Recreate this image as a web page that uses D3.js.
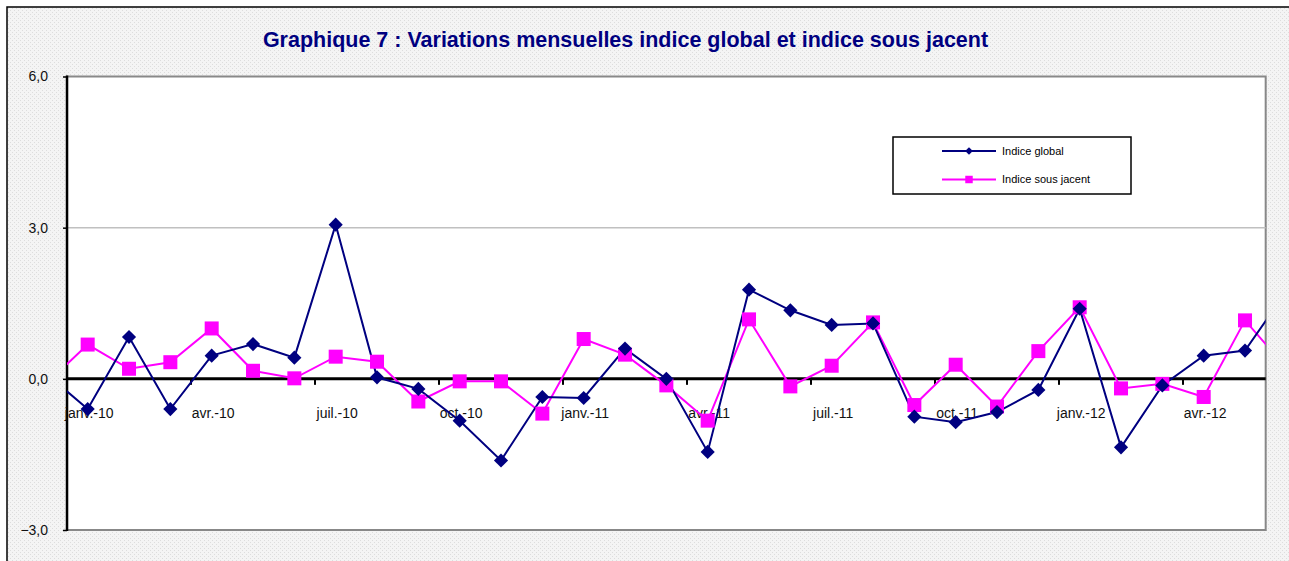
<!DOCTYPE html>
<html>
<head>
<meta charset="utf-8">
<script src="https://cdn.jsdelivr.net/npm/d3@7"></script>
<style>
  body { margin: 0; background: #fff; }
  svg { display: block; font-family: "Liberation Sans", Arial, sans-serif; }
</style>
</head>
<body>
<svg id="chart"></svg>
<script>
// months (déc.-09 and juin-12 sit outside the visible window and get clipped)
var months = ["déc.-09",
  "janv.-10","févr.-10","mars-10","avr.-10","mai-10","juin-10","juil.-10","août-10","sept.-10","oct.-10","nov.-10","déc.-10",
  "janv.-11","févr.-11","mars-11","avr.-11","mai-11","juin-11","juil.-11","août-11","sept.-11","oct.-11","nov.-11","déc.-11",
  "janv.-12","févr.-12","mars-12","avr.-12","mai-12",
  "juin-12"];

var indiceGlobal = [0.10,
  -0.60, 0.83, -0.60, 0.46, 0.69, 0.42, 3.06, 0.03, -0.20, -0.83, -1.62, -0.36,
  -0.38, 0.60, 0.00, -1.45, 1.77, 1.36, 1.07, 1.10, -0.75, -0.86, -0.66, -0.22,
  1.39, -1.36, -0.13, 0.46, 0.56,
  1.74];

var indiceSousJacent = [-0.10,
  0.68, 0.20, 0.33, 1.00, 0.16, 0.01, 0.44, 0.34, -0.45, -0.05, -0.05, -0.69,
  0.79, 0.48, -0.13, -0.83, 1.18, -0.15, 0.26, 1.12, -0.52, 0.28, -0.55, 0.55,
  1.42, -0.19, -0.10, -0.36, 1.16,
  0.22];

var firstShown = "janv.-10", lastShown = "mai-12";
var tickLabels = ["janv.-10","avr.-10","juil.-10","oct.-10","janv.-11","avr.-11","juil.-11","oct.-11","janv.-12","avr.-12"];
var yTicks = [-3, 0, 3, 6];
var seriesNames = ["Indice global", "Indice sous jacent"];

var W = 1289, H = 561;
var svg = d3.select("#chart").attr("width", W).attr("height", H);

// dotted grey background like the excel chart area
var defs = svg.append("defs");
var pat = defs.append("pattern").attr("id", "dots")
    .attr("width", 4).attr("height", 4).attr("patternUnits", "userSpaceOnUse");
pat.append("rect").attr("width", 4).attr("height", 4).attr("fill", "#f4f4f4");
pat.append("rect").attr("x", 0).attr("y", 0).attr("width", 1).attr("height", 1).attr("fill", "#dddddd");
pat.append("rect").attr("x", 2).attr("y", 2).attr("width", 1).attr("height", 1).attr("fill", "#dddddd");

svg.append("rect")
    .attr("x", 7).attr("y", 7).attr("width", W).attr("height", H)
    .attr("fill", "url(#dots)")
    .attr("stroke", "#000").attr("stroke-width", 1.5);

// title
svg.append("text")
    .attr("x", 625.5).attr("y", 47)
    .attr("text-anchor", "middle")
    .attr("font-size", 21.5).attr("font-weight", "bold")
    .attr("fill", "#000080")
    .text("Graphique 7 : Variations mensuelles indice global et indice sous jacent");

// scales
var x = d3.scalePoint().domain(months).range([46.35, 1286.35]);
var step = x.step();
var left = x(firstShown) - step / 2, right = x(lastShown) + step / 2;
var y = d3.scaleLinear().domain([-3, 6]).range([530, 76.5]);

// plot area
svg.append("rect")
    .attr("x", left).attr("y", y(6))
    .attr("width", right - left).attr("height", y(-3) - y(6))
    .attr("fill", "#fff")
    .attr("stroke", "#888").attr("stroke-width", 2);

svg.append("line")
    .attr("x1", left).attr("x2", right)
    .attr("y1", y(3)).attr("y2", y(3))
    .attr("stroke", "#c0c0c0").attr("stroke-width", 1.5);

// y axis
var yAxis = d3.axisLeft(y)
    .tickValues(yTicks)
    .tickSize(4)
    .tickPadding(15)
    .tickFormat(function(d){ return d3.format(".1f")(d).replace(".", ","); });

var gy = svg.append("g")
    .attr("transform", "translate(" + left + ",0)")
    .call(yAxis);
gy.select(".domain").remove();
gy.selectAll("line").attr("stroke", "#000").attr("stroke-width", 1.5);
gy.selectAll("text").attr("font-size", 14).attr("fill", "#111")
    .attr("font-family", "Liberation Sans, Arial, sans-serif");
svg.append("line")
    .attr("x1", left).attr("x2", left)
    .attr("y1", y(6) - 1).attr("y2", y(-3) + 1)
    .attr("stroke", "#000").attr("stroke-width", 2.5);

// x axis on the 0 line
var gx = svg.append("g").attr("transform", "translate(0," + y(0) + ")");
gx.append("line")
    .attr("x1", left).attr("x2", right)
    .attr("stroke", "#000").attr("stroke-width", 3);
gx.selectAll(".tk")
    .data(tickLabels)
    .enter().append("line")
    .attr("class", "tk")
    .attr("x1", function(d){ return x(d) - step / 2; })
    .attr("x2", function(d){ return x(d) - step / 2; })
    .attr("y1", 0).attr("y2", 6)
    .attr("stroke", "#000").attr("stroke-width", 2);

var xAxis = d3.axisBottom(x).tickValues(tickLabels).tickSize(0).tickPadding(29);
var gxl = svg.append("g").attr("transform", "translate(1," + y(0) + ")").call(xAxis);
gxl.select(".domain").remove();
gxl.selectAll("text").attr("font-size", 14).attr("fill", "#111")
    .attr("font-family", "Liberation Sans, Arial, sans-serif");

// series
defs.append("clipPath").attr("id", "plotclip")
  .append("rect")
    .attr("x", left).attr("y", y(6))
    .attr("width", right - left).attr("height", y(-3) - y(6));

var plot = svg.append("g").attr("clip-path", "url(#plotclip)");

var line = d3.line()
    .x(function(d){ return x(d.m); })
    .y(function(d){ return y(d.v); });

function seriesData(vals) {
  return months.map(function(m, i){ return { m: m, v: vals[i] }; });
}
var globalData = seriesData(indiceGlobal);
var sousData = seriesData(indiceSousJacent);

plot.append("path").datum(sousData)
    .attr("d", line).attr("fill", "none")
    .attr("stroke", "#ff00ff").attr("stroke-width", 2);

plot.append("path").datum(globalData)
    .attr("d", line).attr("fill", "none")
    .attr("stroke", "#000080").attr("stroke-width", 2);

plot.selectAll(".sq")
    .data(sousData)
    .enter().append("rect")
    .attr("class", "sq")
    .attr("x", function(d){ return x(d.m) - 7; })
    .attr("y", function(d){ return y(d.v) - 7; })
    .attr("width", 14).attr("height", 14)
    .attr("fill", "#ff00ff");

var diamond = d3.symbol().type(d3.symbolSquare).size(100);
plot.selectAll(".dm")
    .data(globalData)
    .enter().append("path")
    .attr("class", "dm")
    .attr("d", diamond)
    .attr("transform", function(d){ return "translate(" + x(d.m) + "," + y(d.v) + ") rotate(45)"; })
    .attr("fill", "#000080");

// legend
var lg = svg.append("g").attr("transform", "translate(893,137)");
lg.append("rect")
    .attr("width", 238).attr("height", 57)
    .attr("fill", "#fff").attr("stroke", "#000").attr("stroke-width", 1.5);

var rows = lg.selectAll(".row")
    .data(seriesNames)
    .enter().append("g")
    .attr("transform", function(d, i){ return "translate(0," + (14 + i * 28.5) + ")"; });

rows.append("line")
    .attr("x1", 49).attr("x2", 103)
    .attr("stroke", function(d, i){ return i == 0 ? "#000080" : "#ff00ff"; })
    .attr("stroke-width", 2);

rows.append("path")
    .attr("d", function(d, i){
      return i == 0 ? d3.symbol().type(d3.symbolSquare).size(30)() : d3.symbol().type(d3.symbolSquare).size(56)();
    })
    .attr("transform", function(d, i){ return "translate(76,0)" + (i == 0 ? " rotate(45)" : ""); })
    .attr("fill", function(d, i){ return i == 0 ? "#000080" : "#ff00ff"; });

rows.append("text")
    .attr("x", 109).attr("dy", "0.35em")
    .attr("font-size", 11).attr("fill", "#000")
    .text(function(d){ return d; });
</script>
</body>
</html>
